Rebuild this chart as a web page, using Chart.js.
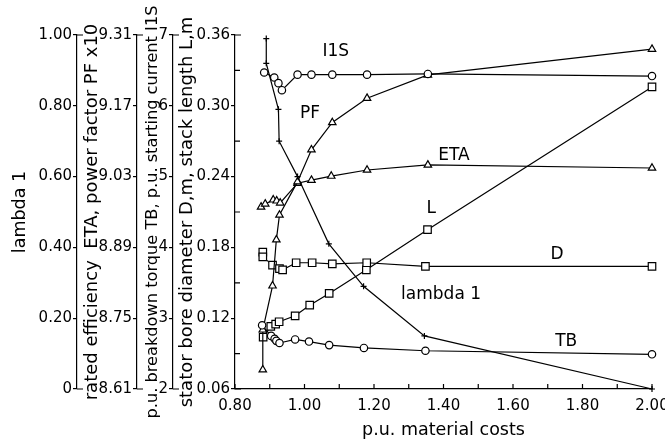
<!DOCTYPE html>
<html>
<head>
<meta charset="utf-8">
<script src="https://cdn.jsdelivr.net/npm/chart.js@4"></script>
<style>
  body { margin: 0; background: #fff; }
  #wrap { width: 665px; height: 446px; }
</style>
</head>
<body>
<div id="wrap"><canvas id="chart" width="665" height="446"></canvas></div>
<script>
// p.u. material costs (x) and the curves
const lambdaX = [0.89, 0.89, 0.925, 0.927, 0.98, 1.07, 1.17, 1.345, 2.00];
const lambdaY = [0.99, 0.92, 0.79, 0.70, 0.60, 0.41, 0.29, 0.15, 0.0];

const i1sX = [0.884, 0.913, 0.925, 0.935, 0.98, 1.02, 1.08, 1.18, 1.355, 2.00];
const i1sY = [6.47, 6.40, 6.32, 6.22, 6.44, 6.44, 6.44, 6.44, 6.45, 6.42];

const tbX = [0.878, 0.904, 0.914, 0.919, 0.928, 0.973, 1.013, 1.071, 1.171, 1.348, 2.00];
const tbY = [2.90, 2.75, 2.71, 2.68, 2.65, 2.70, 2.67, 2.62, 2.58, 2.54, 2.49];

const pfX = [0.88, 0.88, 0.908, 0.919, 0.928, 0.98, 1.02, 1.08, 1.18, 1.355, 2.00];
const pfY = [8.648, 8.727, 8.814, 8.905, 8.954, 9.02, 9.083, 9.137, 9.185, 9.231, 9.282];

const etaX = [0.875, 0.887, 0.91, 0.92, 0.93, 0.98, 1.02, 1.077, 1.18, 1.355, 2.00];
const etaY = [8.970, 8.976, 8.984, 8.982, 8.978, 9.017, 9.023, 9.031, 9.043, 9.053, 9.047];

const dX = [0.88, 0.88, 0.908, 0.928, 0.937, 0.976, 1.022, 1.08, 1.179, 1.348, 2.00];
const dY = [0.176, 0.172, 0.165, 0.162, 0.161, 0.167, 0.167, 0.166, 0.167, 0.164, 0.164];

const lX = [0.881, 0.903, 0.917, 0.927, 0.973, 1.015, 1.071, 1.178, 1.354, 2.00];
const lY = [0.104, 0.113, 0.115, 0.117, 0.122, 0.131, 0.141, 0.161, 0.195, 0.316];

// tick labels
const xTicks = [0.8, 1.0, 1.2, 1.4, 1.6, 1.8, 2.0];
const xMinorTicks = [0.9, 1.1, 1.3, 1.5, 1.7, 1.9];
const lambdaTicks = [0, 0.2, 0.4, 0.6, 0.8, 1.0];
const etaTicks = [8.61, 8.75, 8.89, 9.03, 9.17, 9.31];
const tbTicks = [2, 3, 4, 5, 6, 7];
const dlTicks = [0.06, 0.12, 0.18, 0.24, 0.30, 0.36];
const dlMinorTicks = [0.09, 0.15, 0.21, 0.27, 0.33];

// curve names, placed in (x, D/L axis) data units
const curveNames = ['I1S', 'PF', 'ETA', 'L', 'D', 'lambda 1', 'TB'];
const curveNameX = [1.09, 1.016, 1.43, 1.365, 1.727, 1.393, 1.753];
const curveNameY = [0.3456, 0.293, 0.2575, 0.2125, 0.1736, 0.140, 0.1005];

const FONT = 'DejaVu Sans';
const pts = (xs, ys) => xs.map((x, i) => ({ x, y: ys[i] }));

function series(label, xs, ys, axis, style, radius) {
    return {
        label,
        data: pts(xs, ys),
        yAxisID: axis,
        borderColor: '#000',
        borderWidth: 1.2,
        tension: 0,
        fill: false,
        clip: false,
        pointStyle: style,
        pointRadius: radius,
        pointBorderWidth: 1.2,
        pointBorderColor: '#000',
        pointBackgroundColor: '#fff',
    };
}

function yAxis(ticks, title, width, weight, titleSize, titlePad, fmt) {
    return {
        type: 'linear',
        position: 'left',
        weight,
        min: ticks[0],
        max: ticks[ticks.length - 1],
        afterBuildTicks: s => { s.ticks = ticks.map(v => ({ value: v })); },
        afterFit: s => { s.width = width; s.paddingTop = 0; s.paddingBottom = 0; },
        grid: { drawOnChartArea: false, color: '#000', tickLength: 4, lineWidth: 1.2 },
        border: { display: true, color: '#000', width: 1.2 },
        ticks: { color: '#000', padding: 1, font: { family: FONT, size: 15 }, callback: fmt },
        title: {
            display: true, text: title, color: '#000',
            font: { family: FONT, size: titleSize },
            padding: { top: titlePad, bottom: 0 },
        },
    };
}

// inward ticks, corner stubs and the curve names
const decorations = {
    id: 'decorations',
    afterDraw(chart) {
        const ctx = chart.ctx;
        const xs = chart.scales.x;
        const dl = chart.scales.yDL;
        ctx.save();
        ctx.strokeStyle = '#000';
        ctx.lineWidth = 1.2;
        ctx.beginPath();
        [...xTicks, ...xMinorTicks].forEach(v => {
            const px = xs.getPixelForValue(v);
            ctx.moveTo(px, xs.top);
            ctx.lineTo(px, xs.top - 5);
        });
        dlMinorTicks.forEach(v => {
            const py = dl.getPixelForValue(v);
            ctx.moveTo(dl.right, py);
            ctx.lineTo(dl.right + 5, py);
        });
        ['yLambda', 'yEta', 'yTb', 'yDL'].forEach(id => {
            const s = chart.scales[id];
            ctx.moveTo(s.right, s.top);
            ctx.lineTo(s.right + 6, s.top);
            ctx.moveTo(s.right, s.bottom);
            ctx.lineTo(s.right + 6, s.bottom);
        });
        ctx.stroke();

        ctx.fillStyle = '#000';
        ctx.font = '17px "' + FONT + '"';
        ctx.textAlign = 'center';
        ctx.textBaseline = 'middle';
        curveNames.forEach((t, i) => {
            ctx.fillText(t, xs.getPixelForValue(curveNameX[i]), dl.getPixelForValue(curveNameY[i]));
        });
        ctx.restore();
    }
};

new Chart(document.getElementById('chart').getContext('2d'), {
    type: 'line',
    data: {
        datasets: [
            series('lambda 1', lambdaX, lambdaY, 'yLambda', 'cross', 3),
            series('I1S', i1sX, i1sY, 'yTb', 'circle', 3.7),
            series('TB', tbX, tbY, 'yTb', 'circle', 3.7),
            series('PF', pfX, pfY, 'yEta', 'triangle', 4.3),
            series('ETA', etaX, etaY, 'yEta', 'triangle', 4.3),
            series('D', dX, dY, 'yDL', 'rect', 5.3),
            series('L', lX, lY, 'yDL', 'rect', 5.3),
        ],
    },
    options: {
        responsive: false,
        animation: false,
        layout: { padding: { top: 35, right: 13, left: 0, bottom: 0 } },
        plugins: {
            legend: { display: false },
            tooltip: { enabled: false },
        },
        scales: {
            x: {
                type: 'linear',
                min: 0.8,
                max: 2.0,
                afterBuildTicks: s => { s.ticks = xTicks.map(v => ({ value: v })); },
                afterFit: s => { s.height = 57; s.paddingLeft = 0; s.paddingRight = 0; },
                grid: { display: false, drawTicks: false },
                border: { display: true, color: '#000', width: 1.2 },
                ticks: {
                    color: '#000', padding: 8, maxRotation: 0,
                    font: { family: FONT, size: 15 },
                    callback: v => v.toFixed(2),
                },
                title: {
                    display: true, text: 'p.u. material costs', color: '#000',
                    font: { family: FONT, size: 17.5 },
                    padding: { top: 0, bottom: 5 },
                },
            },
            yLambda: yAxis(lambdaTicks, 'lambda 1', 77, 4, 17.5, 10, v => v === 0 ? '0' : v.toFixed(2)),
            yEta: yAxis(etaTicks, 'rated efficiency  ETA, power factor PF x10', 60, 3, 18, 5, v => v.toFixed(2)),
            yTb: yAxis(tbTicks, 'p.u. breakdown torque TB, p.u. starting current I1S', 36, 2, 16.2, 6, v => String(v)),
            yDL: yAxis(dlTicks, 'stator bore diameter D,m, stack length L,m', 62, 1, 18, 4, v => v.toFixed(2)),
        },
    },
    plugins: [decorations],
});
</script>
</body>
</html>
